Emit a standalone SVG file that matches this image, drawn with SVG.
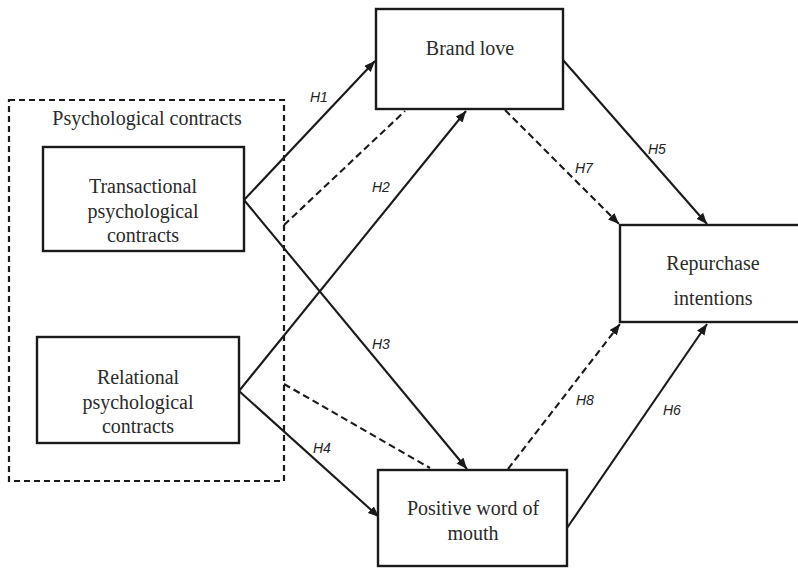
<svg xmlns="http://www.w3.org/2000/svg" width="798" height="569" viewBox="0 0 798 569">
<style>
.box{fill:#fff;stroke:#1a1a1a;stroke-width:2.4}
.grp{fill:none;stroke:#1a1a1a;stroke-width:2.2;stroke-dasharray:6 4}
.t{font-family:"Liberation Serif","Times New Roman",serif;font-size:20px;fill:#2a2a2a;text-anchor:middle}
.h{font-family:"Liberation Sans",Arial,sans-serif;font-style:italic;font-size:14px;fill:#222}
.s{fill:none;stroke:#1a1a1a;stroke-width:2.1}
.d{fill:none;stroke:#1a1a1a;stroke-width:2.1;stroke-dasharray:7 4}
</style>
<defs>
<marker id="arr" markerUnits="userSpaceOnUse" markerWidth="12" markerHeight="10" refX="11" refY="4.5" orient="auto">
<path d="M0,0 L11,4.5 L0,9 z" fill="#1a1a1a"/>
</marker>
</defs>
<g id="psychological-contracts">
<rect class="grp" x="9" y="100" width="275" height="381"/>
<text class="t" x="147" y="125">Psychological contracts</text>
</g>
<g id="connectors">
<line class="s" x1="244" y1="200" x2="375" y2="61" marker-end="url(#arr)"/>
<line class="s" x1="244" y1="200" x2="467" y2="469" marker-end="url(#arr)"/>
<line class="d" x1="284" y1="225" x2="405" y2="111"/>
<line class="s" x1="239" y1="391" x2="466" y2="111" marker-end="url(#arr)"/>
<line class="s" x1="239" y1="391" x2="379" y2="517" marker-end="url(#arr)"/>
<line class="d" x1="284" y1="384" x2="430" y2="468"/>
<line class="d" x1="505" y1="110" x2="619" y2="224" marker-end="url(#arr)"/>
<line class="s" x1="563" y1="60" x2="707" y2="224" marker-end="url(#arr)"/>
<line class="d" x1="508" y1="469" x2="620" y2="324" marker-end="url(#arr)"/>
<line class="s" x1="567" y1="528" x2="707" y2="324" marker-end="url(#arr)"/>
<text class="h" x="310" y="102">H1</text>
<text class="h" x="372" y="192">H2</text>
<text class="h" x="372" y="349">H3</text>
<text class="h" x="313" y="453">H4</text>
<text class="h" x="648" y="154">H5</text>
<text class="h" x="663" y="415">H6</text>
<text class="h" x="575" y="173">H7</text>
<text class="h" x="576" y="405">H8</text>
</g>
<g id="transactional">
<rect class="box" x="43" y="147" width="201" height="104"/>
<text class="t" x="143" y="193">Transactional</text>
<text class="t" x="143" y="218">psychological</text>
<text class="t" x="143" y="242">contracts</text>
</g>
<g id="relational">
<rect class="box" x="37" y="337" width="202" height="106"/>
<text class="t" x="138" y="384">Relational</text>
<text class="t" x="138" y="409">psychological</text>
<text class="t" x="138" y="433">contracts</text>
</g>
<g id="brand-love">
<rect class="box" x="376" y="9" width="187" height="100"/>
<text class="t" x="470" y="55">Brand love</text>
</g>
<g id="repurchase">
<rect class="box" x="620" y="225" width="180" height="97"/>
<text class="t" x="713" y="270">Repurchase</text>
<text class="t" x="713" y="305">intentions</text>
</g>
<g id="pwom">
<rect class="box" x="378" y="470" width="189" height="96"/>
<text class="t" x="473" y="515">Positive word of</text>
<text class="t" x="473" y="540">mouth</text>
</g>
</svg>
